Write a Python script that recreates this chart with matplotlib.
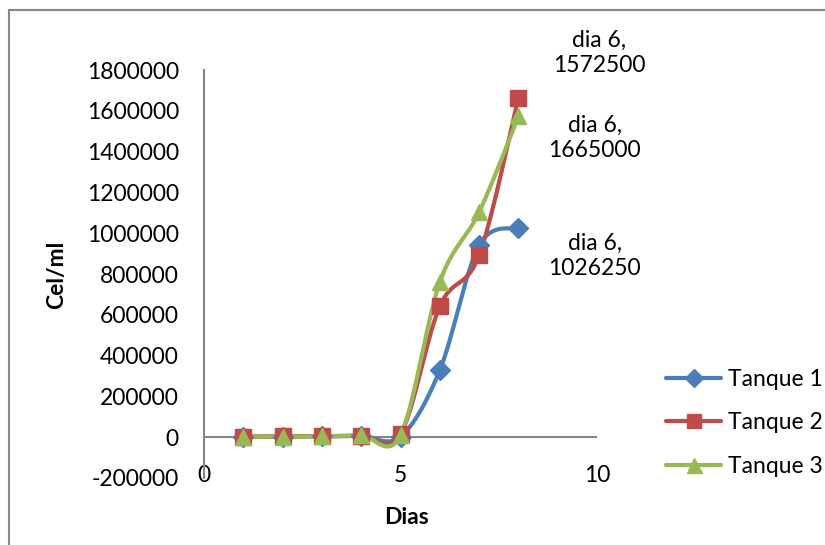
import numpy as np
import matplotlib
matplotlib.use("Agg")
import matplotlib.pyplot as plt
from matplotlib.lines import Line2D
from matplotlib.patches import Rectangle
from matplotlib.ticker import FuncFormatter

plt.rcParams['font.family'] = ['Lato', 'DejaVu Sans']
plt.rcParams['axes.unicode_minus'] = False

dias = [1, 2, 3, 4, 5, 6, 7, 8]
tanque1 = [2000, 3000, 4000, 6000, 2500, 328000, 941000, 1026250]
tanque2 = [3000, 4000, 5000, 8000, 15000, 642000, 892000, 1665000]
tanque3 = [2000, 3000, 4000, 9000, 10000, 760000, 1103000, 1572500]
series_names = ["Tanque 1", "Tanque 2", "Tanque 3"]
label_text = ["dia 6,\n1026250", "dia 6,\n1665000", "dia 6,\n1572500"]

colors = ["#4A7EBB", "#BE4B48", "#98B954"]
markers = ["D", "s", "^"]
msizes = [10.5, 11, 12]


def smooth(x, y, n=30):
    # excel-like smoothed line: cubic bezier segments with catmull-rom handles
    p = np.column_stack([x, y]).astype(float)
    p = np.vstack([p[0], p, p[-1]])
    out = []
    for i in range(1, len(p) - 2):
        p0, p1, p2, p3 = p[i - 1], p[i], p[i + 1], p[i + 2]
        c1 = p1 + (p2 - p0) / 6
        c2 = p2 - (p3 - p1) / 6
        t = np.linspace(0, 1, n)[:, None]
        seg = ((1 - t) ** 3) * p1 + 3 * ((1 - t) ** 2) * t * c1 + 3 * (1 - t) * t ** 2 * c2 + t ** 3 * p2
        out.append(seg)
    out = np.vstack(out)
    return out[:, 0], out[:, 1]


fig = plt.figure(figsize=(8.25, 5.45), dpi=100)
ax = fig.add_axes([204 / 825, 1 - 478 / 545, 393 / 825, 408 / 545])

ax.axhline(0, color="#868686", lw=1.5, zorder=1)

handles = []
for ys, c, m, ms, name in zip([tanque1, tanque2, tanque3], colors, markers, msizes, series_names):
    sx, sy = smooth(dias, ys)
    ax.plot(sx, sy, color=c, lw=3, solid_capstyle="round", zorder=3)
    ax.plot(dias, ys, linestyle="none", marker=m, color=c, markersize=ms, zorder=4)
    handles.append(Line2D([], [], color=c, lw=3, marker=m, markersize=ms * 0.9, solid_capstyle="round"))

# data labels
offsets = [(55, -20), (55, -29), (58, 46)]
for ys, txt, off in zip([tanque1, tanque2, tanque3], label_text, offsets):
    ax.annotate(txt, (dias[-1], ys[-1]), xytext=off, textcoords="offset points",
                ha="center", va="center", fontsize=16.5, linespacing=1.25)

ax.set_xlim(0, 10)
ax.set_ylim(-200000, 1800000)
ax.set_xticks([0, 5, 10])
ax.set_yticks(np.arange(-200000, 1800001, 200000))
ax.yaxis.set_major_formatter(FuncFormatter(lambda v, pos: str(int(round(v)))))
ax.tick_params(axis="both", length=0, labelsize=16.5)
ax.tick_params(axis="y", pad=18)
ax.tick_params(axis="x", pad=-9)
for s in ["top", "right", "bottom"]:
    ax.spines[s].set_visible(False)
ax.spines["left"].set_color("#868686")
ax.spines["left"].set_linewidth(1.5)

ax.text(0.5165, -0.0956, "Dias", transform=ax.transAxes, ha="center", va="center",
        fontsize=16.5, fontweight="bold")
ax.text((57 - 204) / 393, (478 - 275) / 408, "Cel/ml", transform=ax.transAxes, ha="center",
        va="center", rotation=90, fontsize=16.5, fontweight="bold")

fig.legend(handles, series_names, loc="upper left", bbox_to_anchor=(666 / 825, 1 - 369 / 545),
           frameon=False, fontsize=16.5, handlelength=2.4, handletextpad=0.3,
           labelspacing=0.98, borderpad=0, borderaxespad=0)

fig.patches.append(Rectangle((9 / 825, -0.1), 1.2, 1.1 - 10 / 545, transform=fig.transFigure,
                             fill=False, edgecolor="#868686", lw=1.5))

fig.savefig("out.png", dpi=100)
